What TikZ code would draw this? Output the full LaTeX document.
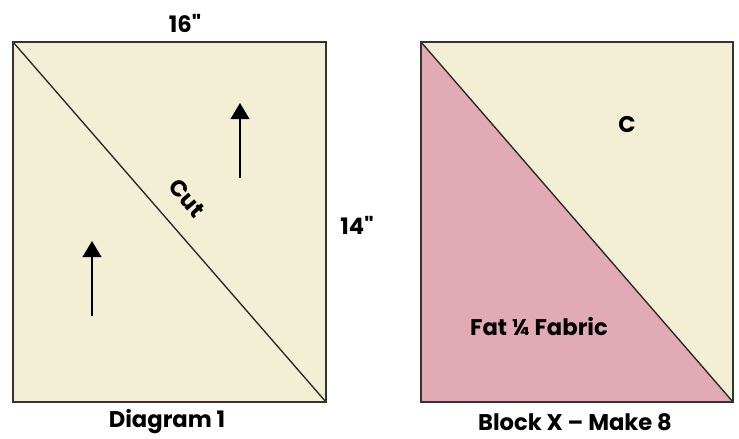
\documentclass[tikz,border=0pt]{standalone}
\usepackage{fontspec}
\setmainfont[Ligatures=TeXOff]{Poppins}
\usetikzlibrary{arrows.meta}
\definecolor{cream}{RGB}{243,239,213}
\definecolor{rose}{RGB}{226,170,181}
\definecolor{edge}{RGB}{51,51,51}
\begin{document}
\begin{tikzpicture}[x=0.75pt,y=-0.75pt,
  lbl/.style={font=\bfseries\fontsize{17}{20}\selectfont, inner sep=0pt},
  sq/.style={draw=edge, line width=1.3pt},
  cutline/.style={draw=black!85, line width=1pt},
  grain/.style={line width=1.5pt, -{Triangle[width=14pt,length=12pt]}}]
\useasboundingbox[fill=white] (0,0) rectangle (739,439);
% left block
\coordinate (LTL) at (13,42);
\coordinate (LBR) at (326,402);
\fill[cream] (LTL) rectangle (LBR);
\draw[cutline] (LTL) -- (LBR);
\draw[sq] (LTL) rectangle (LBR);
% grain arrows
\coordinate (a1s) at (92,316);
\coordinate (a1e) at (92,241);
\coordinate (a2s) at (240,178);
\coordinate (a2e) at (240,103);
\draw[grain] (a1s) -- (a1e);
\draw[grain] (a2s) -- (a2e);
\node[lbl, rotate=-49] (cut) at (187,198) {Cut};
\node[lbl] (w) at (185,23) {16"};
\node[lbl] (h) at (357,225) {14"};
\node[lbl] (d1) at (167,422) {Diagram 1};
% right block
\coordinate (RTL) at (421,42);
\coordinate (RBR) at (733,402);
\coordinate (RBL) at (421,402);
\fill[cream] (RTL) rectangle (RBR);
\fill[rose] (RTL) -- (RBL) -- (RBR) -- cycle;
\draw[cutline] (RTL) -- (RBR);
\draw[sq] (RTL) rectangle (RBR);
\node[lbl] (c) at (627,125) {C};
\node[lbl] (fat) at (539,327) {Fat ¼ Fabric};
\node[lbl] (bx) at (575,422) {Block X – Make 8};
\end{tikzpicture}
\end{document}
